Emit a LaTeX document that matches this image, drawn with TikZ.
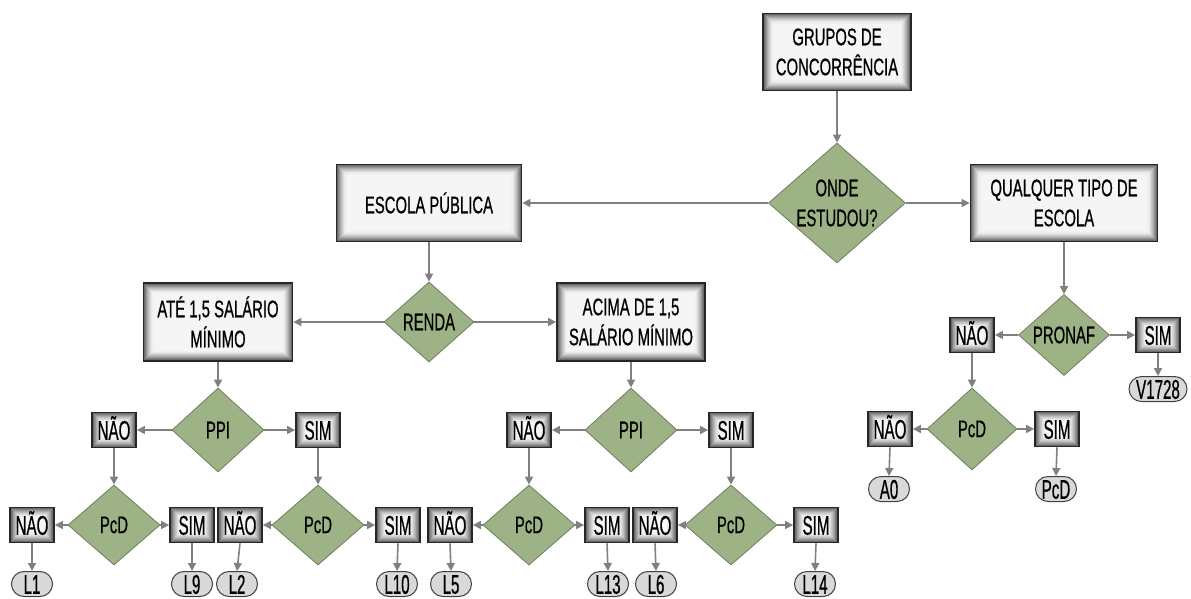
\documentclass[tikz,border=0pt]{standalone}
\usepackage{fontspec}
\setmainfont[FakeStretch=0.62,FakeBold=0.6]{Liberation Sans}
\newfontfamily\narrowfont[FakeStretch=0.56,FakeBold=0.6]{Liberation Sans}
\usetikzlibrary{shapes.geometric,shapes.misc,arrows.meta}
\definecolor{dfill}{HTML}{9DB386}
\definecolor{dline}{HTML}{6E7D5E}
\definecolor{aline}{HTML}{808080}
\definecolor{bline}{HTML}{262626}
\definecolor{ofill}{HTML}{D9D9D9}
\begin{document}
\begin{tikzpicture}[x=1pt,y=-1pt,
  txt/.style={font=\fontsize{24}{30}\selectfont},
  stxt/.style={font=\narrowfont\fontsize{27}{30}\selectfont, text height=19.5pt, text depth=0pt},
  glow/.style={path picture={
    \foreach \i/\c in {0/68,1/58,2/49,3/41,4/33,5/26,6/20,7/14,8/9,9/6}{
      \draw[line width=1.05pt, draw=black!\c]
        ([shift={(\i*1pt+0.5pt,-\i*1pt-0.5pt)}]path picture bounding box.north west)
        rectangle
        ([shift={(-\i*1pt-0.5pt,\i*1pt+0.5pt)}]path picture bounding box.south east);
    }}},
  bigbox/.style={txt, rectangle, fill=black!4, glow, draw=bline, line width=1.8pt, align=center, inner sep=0pt},
  smallbox/.style={stxt, rectangle, fill=black!3, glow, draw=bline, line width=1.8pt, inner sep=0pt, minimum width=44pt, minimum height=35pt},
  dia/.style={diamond, fill=dfill, draw=dline, line width=0.8pt, inner sep=0pt},
  dlab/.style={txt, align=center},
  oval/.style={stxt, rounded rectangle, draw=black!75, line width=1pt, fill=ofill, minimum width=43pt, minimum height=25pt, inner sep=1pt},
  arr/.style={draw=aline, line width=1.6pt, -{Triangle[length=8pt,width=8pt]}}
]
\useasboundingbox[fill=white] (0,0) rectangle (1191,599);

% top
\node[bigbox, minimum width=148pt, minimum height=77pt] (g) at (837,52) {GRUPOS DE\\CONCORRÊNCIA};
\node[dia, minimum width=137pt, minimum height=120pt, label={[dlab]center:{ONDE\\ESTUDOU?}}] (o) at (837,203) {};
\node[bigbox, minimum width=187pt, minimum height=77pt] (q) at (1064,203) {QUALQUER TIPO DE\\ESCOLA};
\node[bigbox, minimum width=185pt, minimum height=77pt] (e) at (429,203) {ESCOLA PÚBLICA};

% renda
\node[dia, minimum width=90pt, minimum height=80pt, label={[dlab]center:RENDA}] (r) at (429,322) {};
\node[bigbox, minimum width=149pt, minimum height=78pt] (a1) at (218,322) {ATÉ 1,5 SALÁRIO\\MÍNIMO};
\node[bigbox, minimum width=148pt, minimum height=78pt] (a2) at (631,322) {ACIMA DE 1,5\\SALÁRIO MÍNIMO};

% PPI
\node[dia, minimum width=92pt, minimum height=84pt, label={[dlab]center:PPI}] (p1) at (218,430) {};
\node[dia, minimum width=92pt, minimum height=84pt, label={[dlab]center:PPI}] (p2) at (631,430) {};
\node[smallbox] (n1) at (114,430) {NÃO};
\node[smallbox] (s1) at (318,430) {SIM};
\node[smallbox] (n2) at (529,430) {NÃO};
\node[smallbox] (s2) at (731,430) {SIM};

% PcD row
\node[dia, minimum width=92pt, minimum height=80pt, label={[dlab]center:PcD}] (d1) at (114,525) {};
\node[dia, minimum width=92pt, minimum height=80pt, label={[dlab]center:PcD}] (d2) at (318,525) {};
\node[dia, minimum width=92pt, minimum height=80pt, label={[dlab]center:PcD}] (d3) at (529,525) {};
\node[dia, minimum width=92pt, minimum height=80pt, label={[dlab]center:PcD}] (d4) at (731,525) {};

\node[smallbox] (n11) at (32,525) {NÃO};
\node[smallbox] (s11) at (192,525) {SIM};
\node[smallbox] (n12) at (240,525) {NÃO};
\node[smallbox] (s12) at (398,525) {SIM};
\node[smallbox] (n21) at (450,525) {NÃO};
\node[smallbox] (s21) at (607,525) {SIM};
\node[smallbox] (n22) at (655,525) {NÃO};
\node[smallbox] (s22) at (816,525) {SIM};

\node[oval] (L1) at (32,584) {L1};
\node[oval] (L9) at (192,584) {L9};
\node[oval] (L2) at (237,584) {L2};
\node[oval] (L10) at (397,584) {L10};
\node[oval] (L5) at (451,584) {L5};
\node[oval] (L13) at (608,584) {L13};
\node[oval] (L6) at (656,584) {L6};
\node[oval] (L14) at (815,584) {L14};

% right branch
\node[dia, minimum width=91pt, minimum height=81pt, label={[dlab]center:PRONAF}] (pr) at (1064,335) {};
\node[smallbox] (n5) at (972,335) {NÃO};
\node[smallbox] (s5) at (1158,335) {SIM};
\node[oval, minimum width=60pt] (v) at (1158,389) {V1728};
\node[dia, minimum width=90pt, minimum height=82pt, label={[dlab]center:PcD}] (d5) at (972,429) {};
\node[smallbox] (n6) at (890,429) {NÃO};
\node[smallbox] (s6) at (1057,429) {SIM};
\node[oval] (A0) at (889,489) {A0};
\node[oval] (Pc) at (1056,489) {PcD};

% connectors
\draw[arr] (g.south) -- (o.north);
\draw[arr] (o.west) -- (e.east);
\draw[arr] (o.east) -- (q.west);
\draw[arr] (e.south) -- (r.north);
\draw[arr] (r.west) -- (a1.east);
\draw[arr] (r.east) -- (a2.west);
\draw[arr] (a1.south) -- (p1.north);
\draw[arr] (a2.south) -- (p2.north);
\draw[arr] (p1.west) -- (n1.east);
\draw[arr] (p1.east) -- (s1.west);
\draw[arr] (p2.west) -- (n2.east);
\draw[arr] (p2.east) -- (s2.west);
\draw[arr] (n1.south) -- (d1.north);
\draw[arr] (s1.south) -- (d2.north);
\draw[arr] (n2.south) -- (d3.north);
\draw[arr] (s2.south) -- (d4.north);
\draw[arr] (d1.west) -- (n11.east);
\draw[arr] (d1.east) -- (s11.west);
\draw[arr] (d2.west) -- (n12.east);
\draw[arr] (d2.east) -- (s12.west);
\draw[arr] (d3.west) -- (n21.east);
\draw[arr] (d3.east) -- (s21.west);
\draw[arr] (d4.west) -- (n22.east);
\draw[arr] (d4.east) -- (s22.west);
\draw[arr] (n11.south) -- (L1.north);
\draw[arr] (s11.south) -- (L9.north);
\draw[arr] (n12.south) -- (L2.north);
\draw[arr] (s12.south) -- (L10.north);
\draw[arr] (n21.south) -- (L5.north);
\draw[arr] (s21.south) -- (L13.north);
\draw[arr] (n22.south) -- (L6.north);
\draw[arr] (s22.south) -- (L14.north);
\draw[arr] (q.south) -- (pr.north);
\draw[arr] (pr.west) -- (n5.east);
\draw[arr] (pr.east) -- (s5.west);
\draw[arr] (s5.south) -- (v.north);
\draw[arr] (n5.south) -- (d5.north);
\draw[arr] (d5.west) -- (n6.east);
\draw[arr] (d5.east) -- (s6.west);
\draw[arr] (n6.south) -- (A0.north);
\draw[arr] (s6.south) -- (Pc.north);
\end{tikzpicture}
\end{document}
